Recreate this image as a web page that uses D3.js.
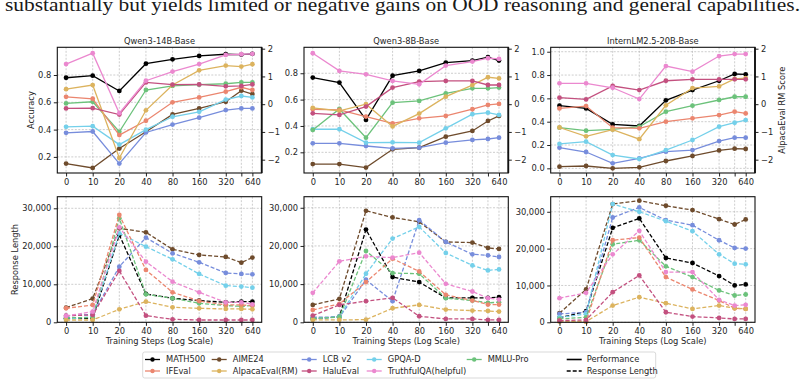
<!DOCTYPE html>
<html>
<head>
<meta charset="utf-8">
<script src="https://cdn.jsdelivr.net/npm/d3@7"></script>
<style>
  body { margin: 0; background: #fff; }
  svg text { font-family: "DejaVu Sans", sans-serif; fill: #262626; }
</style>
</head>
<body>
<svg id="chart" width="807" height="385"></svg>
<script>
// training steps and their tick labels (480 has a grid line but no label)
var steps = [0, 10, 20, 40, 80, 160, 320, 480, 640];
var stepLabels = ["0", "10", "20", "40", "80", "160", "320", "", "640"];

var models = ["Qwen3-14B-Base", "Qwen3-8B-Base", "InternLM2.5-20B-Base"];
var benchmarks = ["MATH500", "AIME24", "LCB v2", "GPQA-D", "MMLU-Pro",
                  "IFEval", "AlpacaEval(RM)", "HaluEval", "TruthfulQA(helpful)"];
var colors = ["#000000", "#6e4b2c", "#778ddc", "#74d0ea", "#6cc27b",
              "#eb866f", "#dcb35e", "#c3507f", "#eb88cf"];
var rmIndex = 6; // AlpacaEval(RM) sits on the right axis

// performance, one row per benchmark (AlpacaEval row = RM score)
var acc14B = [
  [0.78, 0.795, 0.683, 0.883, 0.915, 0.94, 0.952, 0.95, 0.955],
  [0.151, 0.119, 0.261, 0.384, 0.511, 0.555, 0.604, 0.685, 0.66],
  [0.376, 0.386, 0.151, 0.379, 0.437, 0.487, 0.543, 0.555, 0.555],
  [0.42, 0.425, 0.29, 0.40, 0.494, 0.53, 0.62, 0.646, 0.636],
  [0.592, 0.604, 0.384, 0.69, 0.72, 0.729, 0.736, 0.746, 0.746],
  [0.64, 0.626, 0.36, 0.465, 0.6, 0.636, 0.678, 0.71, 0.69],
  [0.54, 0.69, -1.94, -0.22, 0.69, 1.22, 1.39, 1.355, 1.44],
  [0.555, 0.557, 0.51, 0.746, 0.729, 0.731, 0.717, 0.72, 0.731],
  [0.88, 0.96, 0.52, 0.758, 0.825, 0.88, 0.947, 0.952, 0.955]
];
var acc8B = [
  [0.767, 0.729, 0.446, 0.782, 0.818, 0.881, 0.896, 0.922, 0.896],
  [0.111, 0.111, 0.084, 0.223, 0.235, 0.319, 0.362, 0.438, 0.476],
  [0.268, 0.268, 0.248, 0.23, 0.235, 0.273, 0.294, 0.301, 0.311],
  [0.375, 0.375, 0.273, 0.276, 0.273, 0.382, 0.489, 0.501, 0.484],
  [0.37, 0.529, 0.311, 0.577, 0.59, 0.648, 0.686, 0.686, 0.691],
  [0.527, 0.522, 0.471, 0.42, 0.458, 0.476, 0.527, 0.56, 0.567],
  [-0.13, -0.24, 0.0, -0.8, -0.34, 0.27, 0.69, 0.97, 0.93],
  [0.496, 0.484, 0.547, 0.691, 0.737, 0.742, 0.742, 0.711, 0.711],
  [0.952, 0.818, 0.792, 0.742, 0.716, 0.858, 0.889, 0.914, 0.909]
];
var accIntern = [
  [0.537, 0.514, 0.377, 0.363, 0.583, 0.671, 0.751, 0.809, 0.806],
  [0.014, 0.02, 0.0, 0.009, 0.063, 0.106, 0.154, 0.169, 0.166],
  [0.177, 0.14, 0.043, 0.086, 0.143, 0.157, 0.234, 0.263, 0.263],
  [0.209, 0.229, 0.114, 0.08, 0.157, 0.243, 0.357, 0.391, 0.414],
  [0.349, 0.323, 0.334, 0.357, 0.486, 0.537, 0.586, 0.614, 0.614],
  [0.514, 0.534, 0.349, 0.343, 0.4, 0.429, 0.457, 0.486, 0.471],
  [-0.84, -1.16, -0.92, -1.26, -0.04, 0.58, 0.64, 0.91, 0.94],
  [0.606, 0.591, 0.706, 0.671, 0.751, 0.763, 0.763, 0.763, 0.763],
  [0.729, 0.729, 0.691, 0.594, 0.877, 0.829, 0.963, 0.98, 0.98]
];

// response length (tokens)
var len14B = [
  [1050, 1050, 22980, 7460, 6320, 5700, 5260, 5440, 5440],
  [3860, 6230, 24740, 23680, 19210, 17720, 17190, 15700, 17020],
  [1670, 2100, 14650, 22280, 18160, 15790, 12980, 12720, 12630],
  [790, 1490, 23420, 19910, 16580, 12720, 9650, 9390, 9120],
  [1230, 1230, 27370, 7370, 6320, 5000, 4390, 4210, 4390],
  [3700, 4560, 28250, 13770, 7890, 5610, 4560, 4560, 4390],
  [610, 610, 3420, 5440, 3950, 3680, 3510, 3510, 3420],
  [1750, 1930, 13510, 1750, 790, 610, 610, 610, 610],
  [1670, 2800, 25000, 15960, 10700, 7890, 5260, 5260, 4740]
];
var len8B = [
  [880, 1490, 24300, 11840, 10530, 6400, 6400, 6400, 6580],
  [4560, 6140, 29210, 27460, 26320, 21050, 20880, 19470, 19210],
  [1320, 1320, 11140, 5530, 26750, 21050, 17810, 17540, 17100],
  [880, 1490, 12720, 21930, 25000, 18160, 14910, 13600, 13860],
  [1050, 1320, 18680, 12890, 12720, 6320, 5700, 5090, 5260],
  [3250, 4820, 10530, 16670, 13330, 7190, 5700, 4650, 4650],
  [610, 610, 700, 3680, 4560, 3330, 3070, 2980, 2800],
  [1750, 4560, 5530, 6400, 1580, 880, 880, 610, 610],
  [7720, 15960, 17280, 16930, 18250, 10090, 8070, 6320, 5960]
];
var lenIntern = [
  [1180, 3000, 25640, 28180, 17450, 16090, 12550, 10000, 10270],
  [2450, 8910, 32090, 33000, 31640, 30450, 28000, 26550, 27910],
  [2270, 2730, 28450, 31180, 27730, 26360, 22270, 20180, 20000],
  [1360, 2270, 32090, 30000, 27450, 24730, 18450, 15910, 15730],
  [910, 1360, 21180, 22270, 15180, 12270, 8640, 7270, 7550],
  [450, 180, 22270, 23000, 12270, 8910, 5910, 3820, 3640],
  [180, 180, 4550, 6820, 5180, 3640, 4550, 3820, 3640],
  [450, 640, 8180, 12730, 2730, 1550, 1180, 910, 910],
  [6550, 8000, 18450, 24820, 13640, 13640, 6090, 4550, 4730]
];

var accData = [acc14B, acc8B, accIntern];
var lenData = [len14B, len8B, lenIntern];

// layout
var cols = [[57.3, 261.7], [304, 508.3], [550.7, 755]];
var topRow = [47.3, 173], botRow = [196.7, 322.3];
var accDomains = [[0.082, 1.003], [0.043, 0.997], [-0.04, 1.038]];
var accTicks = [[0.2, 0.4, 0.6, 0.8], [0.2, 0.4, 0.6, 0.8], [0, 0.2, 0.4, 0.6, 0.8, 1.0]];
var rmDomain = [-2.48, 2.05];
var rmTicks = [-2, -1, 0, 1, 2];
var lenDomains = [[0, 33050], [0, 32900], [0, 34090]];
var lenTicks = [0, 10000, 20000, 30000];
var fs = "8.3px";

var svg = d3.select("#chart");

// caption line cut off at the top
svg.append("text")
   .attr("x", 5).attr("y", 11)
   .attr("textLength", 795).attr("lengthAdjust", "spacingAndGlyphs")
   .style("font-family", "'Liberation Serif', serif")
   .style("font-size", "19px").style("fill", "#1a1a1a")
   .text("substantially but yields limited or negative gains on OOD reasoning and general capabilities.");

function stepPos(s){
    return s === 0 ? 0 : Math.log2(s / 10) + 1;
}

function drawPanel(c, rowRange, yDomain, yTicks, yFmt, rows, dashed, isTop){
    var x = d3.scaleLinear().domain([-0.33, 7.35]).range(cols[c]);
    var y = d3.scaleLinear().domain(yDomain).range([rowRange[1], rowRange[0]]);
    var yr = d3.scaleLinear().domain(rmDomain).range([rowRange[1], rowRange[0]]);
    var g = svg.append("g");

    // grid
    g.selectAll(".gx").data(steps).enter().append("line")
        .attr("x1", function(d){ return x(stepPos(d)); })
        .attr("x2", function(d){ return x(stepPos(d)); })
        .attr("y1", rowRange[0]).attr("y2", rowRange[1])
        .attr("stroke", "#b8b8b8").attr("stroke-width", 0.7)
        .attr("stroke-dasharray", "2,1.5");
    g.selectAll(".gy").data(yTicks).enter().append("line")
        .attr("x1", cols[c][0]).attr("x2", cols[c][1])
        .attr("y1", function(d){ return y(d); })
        .attr("y2", function(d){ return y(d); })
        .attr("stroke", "#b8b8b8").attr("stroke-width", 0.7)
        .attr("stroke-dasharray", "2,1.5");

    var line = d3.line()
        .x(function(d, i){ return x(stepPos(steps[i])); });

    rows.forEach(function(vals, k){
        var ys = (isTop && k === rmIndex) ? yr : y;
        line.y(function(d){ return ys(d); });
        g.append("path").datum(vals)
            .attr("d", line)
            .attr("fill", "none")
            .attr("stroke", colors[k])
            .attr("stroke-width", 1.3)
            .attr("stroke-dasharray", dashed ? "4,2" : null);
        g.selectAll(".pt" + k).data(vals).enter().append("circle")
            .attr("cx", function(d, i){ return x(stepPos(steps[i])); })
            .attr("cy", function(d){ return ys(d); })
            .attr("r", 2.4)
            .attr("fill", colors[k]);
    });

    // axes
    var ax = g.append("g").attr("transform", "translate(0," + rowRange[1] + ")")
        .call(d3.axisBottom(x).tickValues(steps.map(stepPos))
            .tickFormat(function(d, i){ return stepLabels[i]; })
            .tickSize(3.5).tickPadding(2.5));
    var ay = g.append("g").attr("transform", "translate(" + cols[c][0] + ",0)")
        .call(d3.axisLeft(y).tickValues(yTicks).tickFormat(yFmt)
            .tickSize(3.5).tickPadding(2.5));
    var axes = [ax, ay];
    if(isTop){
        var ar = g.append("g").attr("transform", "translate(" + cols[c][1] + ",0)")
            .call(d3.axisRight(yr).tickValues(rmTicks).tickFormat(d3.format("d"))
                .tickSize(3.5).tickPadding(2.5));
        axes.push(ar);
    }
    axes.forEach(function(a){
        a.select(".domain").remove();
        a.selectAll("text").style("font-size", fs).style("fill", "#262626");
        a.selectAll("line").attr("stroke", "#222");
    });

    g.append("rect")
        .attr("x", cols[c][0]).attr("y", rowRange[0])
        .attr("width", cols[c][1] - cols[c][0])
        .attr("height", rowRange[1] - rowRange[0])
        .attr("fill", "none").attr("stroke", "#111").attr("stroke-width", 1.1);
    if(isTop){
        g.append("line")
            .attr("x1", cols[c][1]).attr("x2", cols[c][1])
            .attr("y1", rowRange[0]).attr("y2", rowRange[1])
            .attr("stroke", "#111").attr("stroke-width", 1.8);
    }
}

for(var c = 0; c < 3; c++){
    drawPanel(c, topRow, accDomains[c], accTicks[c], d3.format(".1f"), accData[c], false, true);
    drawPanel(c, botRow, lenDomains[c], lenTicks, d3.format(","), lenData[c], true, false);

    svg.append("text")
        .attr("x", (cols[c][0] + cols[c][1]) / 2).attr("y", 44)
        .attr("text-anchor", "middle").style("font-size", fs)
        .text(models[c]);
    svg.append("text")
        .attr("x", (cols[c][0] + cols[c][1]) / 2).attr("y", 344)
        .attr("text-anchor", "middle").style("font-size", fs)
        .text("Training Steps (Log Scale)");
}

svg.append("text")
    .attr("transform", "translate(34," + (topRow[0] + topRow[1]) / 2 + ") rotate(-90)")
    .attr("text-anchor", "middle").style("font-size", fs)
    .text("Accuracy");
svg.append("text")
    .attr("transform", "translate(18," + (botRow[0] + botRow[1]) / 2 + ") rotate(-90)")
    .attr("text-anchor", "middle").style("font-size", fs)
    .text("Response Length");
svg.append("text")
    .attr("transform", "translate(785," + (topRow[0] + topRow[1]) / 2 + ") rotate(-90)")
    .attr("text-anchor", "middle").style("font-size", fs)
    .text("AlpacaEval RM Score");

// legend
var legX = [145, 211.7, 301.7, 366.7, 466.7];
var legY = [359.5, 371];
svg.append("rect")
    .attr("x", 142.7).attr("y", 352).attr("width", 513).attr("height", 26)
    .attr("rx", 2).attr("fill", "#fff").attr("stroke", "#cfcfcf").attr("stroke-width", 0.8);

var legItems = benchmarks.map(function(name, k){
    var col = k < 5 ? k : k - 5;
    var row = k < 5 ? 0 : 1;
    return {name: name, color: colors[k], x: legX[col], y: legY[row]};
});
var li = svg.selectAll(".leg").data(legItems).enter().append("g")
    .attr("transform", function(d){ return "translate(" + d.x + "," + d.y + ")"; });
li.append("line").attr("x1", 0).attr("x2", 15)
    .attr("stroke", function(d){ return d.color; }).attr("stroke-width", 1.3);
li.append("circle").attr("cx", 7.5).attr("r", 2.2)
    .attr("fill", function(d){ return d.color; });
li.append("text").attr("x", 21).attr("dy", "0.35em")
    .style("font-size", fs).text(function(d){ return d.name; });

var styleItems = [{name: "Performance", dash: null, y: legY[0]},
                  {name: "Response Length", dash: "4,2", y: legY[1]}];
var si = svg.selectAll(".sty").data(styleItems).enter().append("g")
    .attr("transform", function(d){ return "translate(566.7," + d.y + ")"; });
si.append("line").attr("x1", 0).attr("x2", 15)
    .attr("stroke", "#000").attr("stroke-width", 1.6)
    .attr("stroke-dasharray", function(d){ return d.dash; });
si.append("text").attr("x", 20).attr("dy", "0.35em")
    .style("font-size", fs).text(function(d){ return d.name; });
</script>
</body>
</html>
